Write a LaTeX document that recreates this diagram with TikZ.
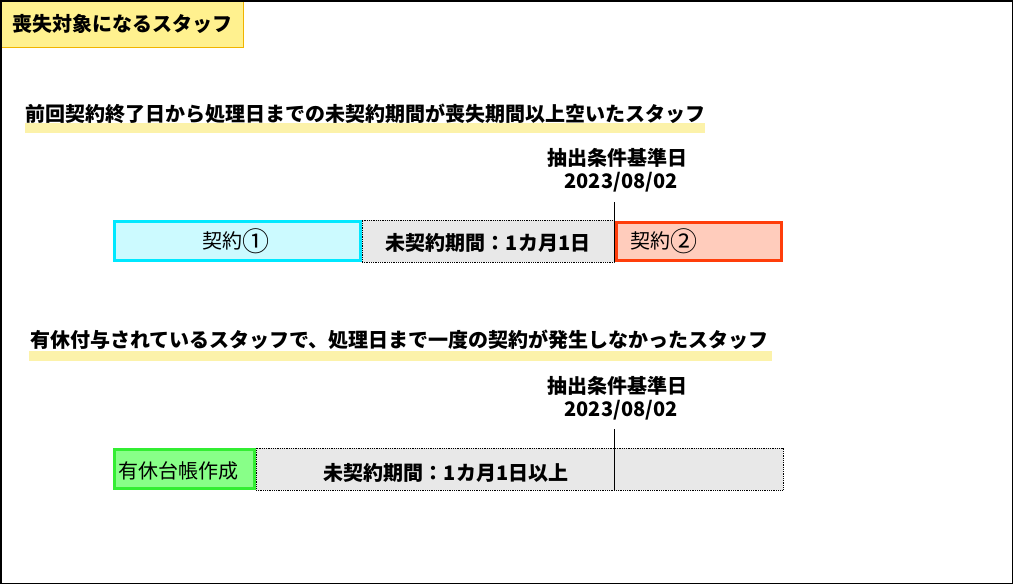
\documentclass[tikz,border=0pt]{standalone}
\usepackage{fontspec}
\usepackage{graphicx}
\setmainfont{Noto Sans CJK JP}
\newfontfamily\jp{Noto Sans CJK JP}
\newcommand{\circnum}[1]{\raisebox{-0.12em}{\scalebox{1.35}{#1}}}
\definecolor{titlefill}{HTML}{FFF18F}
\definecolor{titleline}{HTML}{F0B400}
\definecolor{barfill}{HTML}{FCF2AA}
\definecolor{cyanline}{HTML}{00E8FF}
\definecolor{cyanfill}{HTML}{CCFAFF}
\definecolor{redline}{HTML}{FF3D0A}
\definecolor{redfill}{HTML}{FFCCBC}
\definecolor{greenline}{HTML}{33EE33}
\definecolor{greenfill}{HTML}{88FF88}
\definecolor{gapfill}{HTML}{E8E8E8}
\tikzset{
  txt/.style={inner sep=0pt, font=\jp\fontsize{20}{23}\selectfont},
  btxt/.style={txt, font=\jp\bfseries\fontsize{20}{23}\selectfont},
  bar/.style={fill=barfill, draw=none},
  box/.style={rectangle, anchor=north west, inner sep=0pt, outer sep=0pt, font=\jp\fontsize{20}{23}\selectfont},
  c1box/.style={box, draw=cyanline, fill=cyanfill, line width=3pt},
  c2box/.style={box, draw=redline, fill=redfill, line width=3pt},
  gbox/.style={box, draw=greenline, fill=greenfill, line width=3pt},
  gapbox/.style={box, draw=black, fill=gapfill, line width=0.8pt, densely dotted, font=\jp\bfseries\fontsize{20}{23}\selectfont},
  markline/.style={draw=black, line width=1pt},
  datelbl/.style={btxt, align=center}
}
\begin{document}
\begin{tikzpicture}[x=1pt,y=-1pt]
\useasboundingbox (0,0) rectangle (1013,584);
\fill[white] (0,0) rectangle (1013,584);
% title
\node[box, draw=titleline, fill=titlefill, line width=1pt, minimum width=243pt, minimum height=47pt] (title) at (0,0) {};
\node[btxt, anchor=west] (titletext) at (12,24) {喪失対象になるスタッフ};
\draw[black, line width=1.5pt] (0.75,0.75) rectangle (1012.25,583.25);
% heading 1
\fill[bar] (25,123) rectangle (705,133);
\node[btxt, anchor=west] (h1) at (25,114) {前回契約終了日から処理日までの未契約期間が喪失期間以上空いたスタッフ};
% row 1
\node[datelbl] (d1) at (617,170) {抽出条件基準日\\\hspace*{0.4em}2023/08/02};
\node[c1box, minimum width=246pt, minimum height=39pt] (k1) at (114.5,221.5) {};
\node[txt] at ([xshift=-2pt]k1.center) {契約\circnum{①}};
\node[gapbox, minimum width=252pt, minimum height=42pt] (g1) at (362,220) {};
\node[btxt] at ([yshift=-2pt]g1.center) {未契約期間：1カ月1日};
\node[c2box, minimum width=165pt, minimum height=38pt] (k2) at (616.5,222) {};
\node[txt, anchor=west] at ([xshift=14pt]k2.west) {契約\circnum{②}};
\coordinate (m1top) at (614,202);
\coordinate (m1bot) at (614,262);
\draw[markline] (m1top) -- (m1bot);
% heading 2
\fill[bar] (29,351) rectangle (772,361);
\node[btxt, anchor=west] (h2) at (30,340) {有休付与されているスタッフで、処理日まで一度の契約が発生しなかったスタッフ};
% row 2
\node[datelbl] (d2) at (617,398) {抽出条件基準日\\\hspace*{0.4em}2023/08/02};
\node[gapbox, minimum width=527pt, minimum height=42pt] (g2) at (256,448) {};
\node[btxt] at (446,473) {未契約期間：1カ月1日以上};
\node[gbox, minimum width=140pt, minimum height=39pt] (y1) at (114.5,449.5) {};
\node[txt, anchor=west] at ([xshift=4pt,yshift=-2pt]y1.west) {有休台帳作成};
\coordinate (m2top) at (614,429);
\coordinate (m2bot) at (614,490);
\draw[markline] (m2top) -- (m2bot);
\end{tikzpicture}
\end{document}
